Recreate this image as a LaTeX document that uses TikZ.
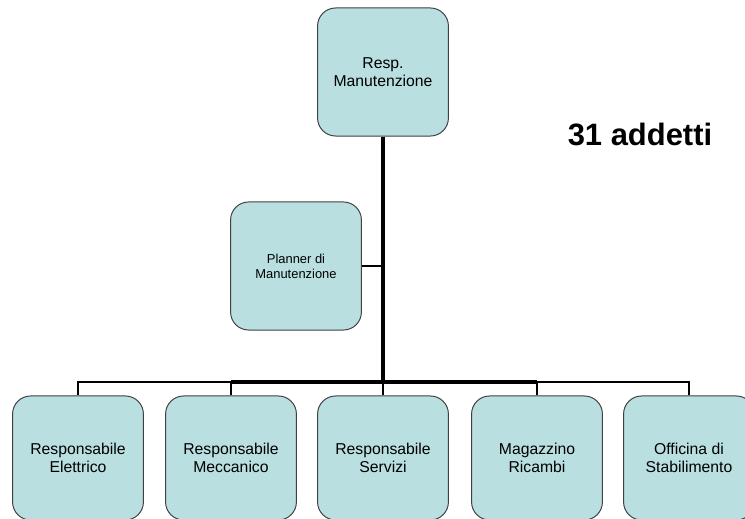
\documentclass[tikz,border=0pt]{standalone}
\usepackage{fontspec}
\setmainfont{Liberation Sans}
\usepackage{xcolor}
\definecolor{boxfill}{HTML}{B9DFE1}

\begin{document}
\begin{tikzpicture}[x=0.025cm,y=-0.025cm,
    unit/.style={draw=black!75,line width=0.7pt,fill=boxfill,rounded corners=0.45cm,
      minimum width=3.27cm,minimum height=3.2cm,align=center,
      font=\fontsize{11.2}{12.8}\selectfont},
    low/.style={unit,minimum height=3.1cm},
    trunk/.style={line width=2.8pt},
    branch/.style={line width=1.9pt}]
      \clip (0,0) rectangle (745,519);
      \node[unit](resp) at (383,72) {Resp.\\Manutenzione};
      \node[unit,font=\fontsize{9.2}{10.8}\selectfont](planner) at (296,266) {Planner di\\Manutenzione};
      \node[font=\fontsize{22}{26}\selectfont\bfseries](addetti) at (640,134) {31 addetti};
      \node[low](elettrico) at (78,458) {Responsabile\\Elettrico};
      \node[low](meccanico) at (231,458) {Responsabile\\Meccanico};
      \node[low](servizi) at (383,458) {Responsabile\\Servizi};
      \node[low](magazzino) at (537,458) {Magazzino\\Ricambi};
      \node[low](officina) at (689,458) {Officina di\\Stabilimento};
      \coordinate (bus) at (383,382);
      \draw[branch] (planner.east) -- (planner.east -| resp.south);
      \draw[trunk] (resp.south) -- (bus);
      \draw[trunk] (meccanico |- bus) -- (magazzino |- bus);
      \draw[branch] (elettrico.north) |- (meccanico |- bus);
      \draw[branch] (officina.north) |- (magazzino |- bus);
      \draw[branch] (meccanico.north) -- (meccanico |- bus);
      \draw[branch] (servizi.north) -- (bus);
      \draw[branch] (magazzino.north) -- (magazzino |- bus);
    \end{tikzpicture}
\end{document}
